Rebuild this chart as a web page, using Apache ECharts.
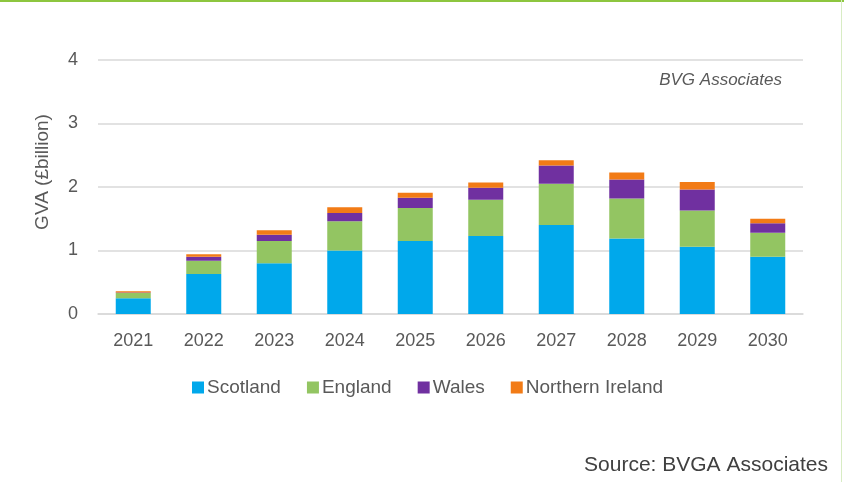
<!DOCTYPE html>
<html>
<head>
<meta charset="utf-8">
<script src="https://cdn.jsdelivr.net/npm/echarts@6/dist/echarts.min.js"></script>
<style>
  html, body { margin: 0; padding: 0; background: #ffffff; }
  #chart { width: 844px; height: 482px; }
</style>
</head>
<body>
<div id="chart"></div>
<script>
// Gross value added by nation, £ billion
const years = ['2021', '2022', '2023', '2024', '2025', '2026', '2027', '2028', '2029', '2030'];
const scotland = [0.25, 0.63, 0.80, 1.00, 1.15, 1.23, 1.40, 1.19, 1.06, 0.90];
const england = [0.08, 0.21, 0.35, 0.46, 0.52, 0.57, 0.65, 0.63, 0.57, 0.38];
const wales = [0.01, 0.06, 0.10, 0.13, 0.16, 0.19, 0.29, 0.30, 0.33, 0.15];
const northernIreland = [0.02, 0.04, 0.07, 0.09, 0.08, 0.08, 0.08, 0.11, 0.12, 0.07];

const seriesNames = ['Scotland', 'England', 'Wales', 'Northern Ireland'];
const seriesColors = ['#00a8eb', '#93c562', '#7030a0', '#f27b16'];
const seriesData = [scotland, england, wales, northernIreland];

const FONT = '"Liberation Sans", Arial, sans-serif';
const TEXT_GREY = '#595959';

const chart = echarts.init(document.getElementById('chart'), null, { renderer: 'canvas' });

chart.setOption({
  backgroundColor: '#ffffff',
  animation: false,
  textStyle: { fontFamily: FONT },
  grid: { left: 98, right: 41, top: 60, bottom: 168, containLabel: false },
  legend: {
    left: 192,
    top: 378,
    padding: 0,
    itemWidth: 12,
    itemHeight: 12,
    itemGap: 26,
    icon: 'rect',
    textStyle: { color: TEXT_GREY, fontSize: 19, fontFamily: FONT, padding: [0, 0, 0, -2] },
    data: seriesNames
  },
  xAxis: {
    type: 'category',
    data: years,
    axisLine: { show: true, lineStyle: { color: '#d9d9d9', width: 1.5 } },
    axisTick: { show: false },
    axisLabel: { color: TEXT_GREY, fontSize: 18, margin: 18, fontFamily: FONT }
  },
  yAxis: {
    type: 'value',
    min: 0,
    max: 4,
    interval: 1,
    axisLine: { show: false },
    axisTick: { show: false },
    axisLabel: { color: TEXT_GREY, fontSize: 18, margin: 20, fontFamily: FONT },
    splitLine: { lineStyle: { color: '#d9d9d9', width: 1.5 } }
  },
  series: seriesNames.map((name, i) => ({
    name: name,
    type: 'bar',
    stack: 'gva',
    barWidth: 35,
    itemStyle: { color: seriesColors[i] },
    data: seriesData[i]
  })),
  graphic: [
    // green rule along the top edge
    { type: 'rect', left: 0, top: 0, shape: { width: 844, height: 2 }, style: { fill: '#8dc63f' } },
    // faint green rule along the right edge
    { type: 'rect', left: 841, top: 0, shape: { width: 1, height: 482 }, style: { fill: '#d8ecc4' } },
    // y-axis title
    {
      type: 'text',
      x: 43, y: 172,
      rotation: Math.PI / 2,
      style: {
        text: 'GVA (£billion)',
        fill: TEXT_GREY,
        font: '19px ' + FONT,
        textAlign: 'center',
        textVerticalAlign: 'middle'
      }
    },
    // in-plot attribution
    {
      type: 'text',
      x: 782, y: 80,
      style: {
        text: 'BVG Associates',
        fill: TEXT_GREY,
        font: 'italic 17px ' + FONT,
        textAlign: 'right',
        textVerticalAlign: 'middle'
      }
    },
    // source line
    {
      type: 'text',
      x: 828, y: 465,
      style: {
        text: 'Source: BVGA Associates',
        fill: '#404040',
        font: '21px ' + FONT,
        textAlign: 'right',
        textVerticalAlign: 'middle'
      }
    }
  ]
});
</script>
</body>
</html>
